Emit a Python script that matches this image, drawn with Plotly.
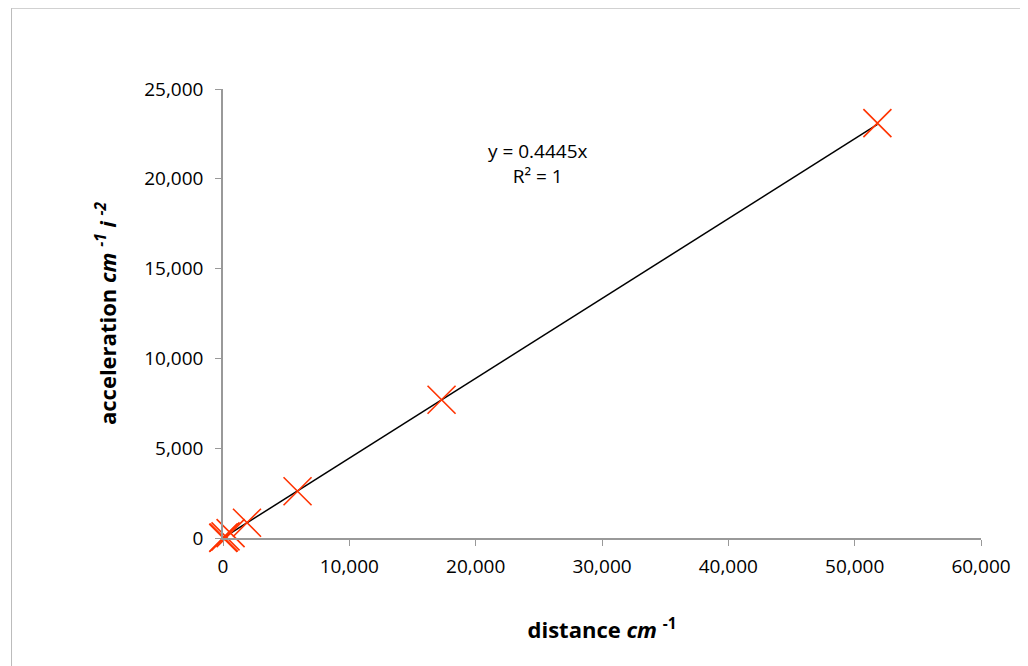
import plotly.graph_objects as go

distance = [20, 60, 200, 600, 1900, 5900, 17300, 51800]
accel = [9, 27, 90, 270, 850, 2600, 7700, 23100]
slope = 0.4445
fit_x = [0, max(distance)]
fit_y = [slope * v for v in fit_x]

fig = go.Figure()
fig.add_trace(go.Scatter(x=fit_x, y=fit_y, mode="lines",
                         line=dict(color="black", width=1.5), hoverinfo="skip"))
fig.add_trace(go.Scatter(x=distance, y=accel, mode="markers", cliponaxis=False,
                         marker=dict(symbol="x-thin", size=28,
                                     line=dict(color="#ff3300", width=1.6))))

fig.add_annotation(x=0.415, y=0.895, xref="paper", yref="paper",
                   text="y = 0.4445x<br>R² = 1", showarrow=False,
                   font=dict(size=19, color="black"), align="center")

fig.update_layout(
    width=1028, height=666, showlegend=False,
    plot_bgcolor="white", paper_bgcolor="white",
    margin=dict(l=215, r=55, t=81, b=136),
    font=dict(family="Open Sans, Noto Sans, sans-serif", size=19, color="black"),
    shapes=[dict(type="rect", xref="paper", yref="paper", x0=-0.279, x1=1.1,
                 y0=-0.34, y1=1.18, line=dict(color="#bbbbbb", width=1))],
)
fig.update_xaxes(range=[0, 60000], dtick=10000, tickformat=",d",
                 tickfont=dict(size=19), ticklabelstandoff=4,
                 showgrid=False, showline=True, linecolor="#999999", linewidth=1.5,
                 ticks="outside", tickcolor="#999999", ticklen=6, zeroline=False,
                 title=dict(text="<b>distance <i>cm</i> <sup>-1</sup></b>",
                            font=dict(size=22), standoff=45))
fig.update_yaxes(range=[0, 25000], dtick=5000, tickformat=",d",
                 tickfont=dict(size=19), ticklabelstandoff=8,
                 showgrid=False, showline=True, linecolor="#999999", linewidth=1.5,
                 ticks="outside", tickcolor="#999999", ticklen=6, zeroline=False,
                 title=dict(text="<b>acceleration <i>cm <sup>-1</sup> i <sup>-2</sup></i></b>",
                            font=dict(size=22), standoff=22))

fig.write_html("out.html")
